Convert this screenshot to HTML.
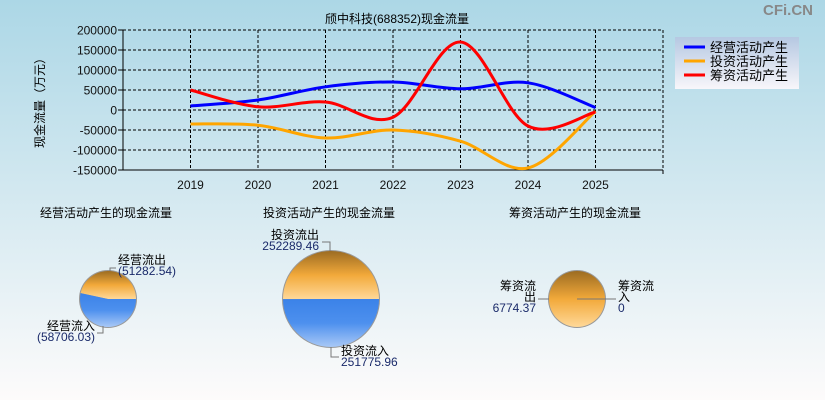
<!DOCTYPE html>
<html><head><meta charset="utf-8"><style>
body{margin:0;width:825px;height:400px;overflow:hidden;font-family:"Liberation Sans","Noto Sans CJK SC",sans-serif}
svg text{font-family:"Liberation Sans","Noto Sans CJK SC",sans-serif}
</style></head><body>
<svg id="c" width="825" height="400" xmlns="http://www.w3.org/2000/svg">
<defs>
<linearGradient id="bg" x1="0" y1="0" x2="0" y2="1"><stop offset="0" stop-color="#acd7e6"/><stop offset="1" stop-color="#fdfbfb"/></linearGradient>
<linearGradient id="lg" x1="0" y1="0" x2="0" y2="1"><stop offset="0" stop-color="#b5c8e2"/><stop offset="1" stop-color="#f8f6fa"/></linearGradient>
<linearGradient id="og" x1="0" y1="0" x2="0" y2="1"><stop offset="0" stop-color="#9c6c22"/><stop offset="0.5" stop-color="#f2a93a"/><stop offset="1" stop-color="#ffd898"/></linearGradient>
<linearGradient id="bgr" x1="0" y1="0" x2="0" y2="1"><stop offset="0" stop-color="#3b82e8"/><stop offset="0.5" stop-color="#4d90ee"/><stop offset="1" stop-color="#a8c8f6"/></linearGradient>
</defs>
<rect width="825" height="400" fill="url(#bg)"/>
<text x="813" y="15" font-size="15" font-weight="bold" fill="#888" text-anchor="end">CFi.CN</text>
<text x="397" y="23" font-size="12" text-anchor="middle">颀中科技(688352)现金流量</text>
<text transform="translate(44,100) rotate(-90)" font-size="12" text-anchor="middle">现金流量（万元）</text>
<g id="grid"></g><g id="series"></g>
<g>
<rect x="675" y="37" width="124" height="52" fill="url(#lg)"/>
<line x1="684" y1="47" x2="705" y2="47" stroke="#0000ff" stroke-width="3"/><text x="710" y="52" font-size="13">经营活动产生</text>
<line x1="684" y1="61" x2="705" y2="61" stroke="#ffa500" stroke-width="3"/><text x="710" y="66" font-size="13">投资活动产生</text>
<line x1="684" y1="75" x2="705" y2="75" stroke="#ff0000" stroke-width="3"/><text x="710" y="80" font-size="13">筹资活动产生</text>
</g>
<g id="pies"></g>
</svg>
<script>
const years=["2019","2020","2021","2022","2023","2024","2025"];
const yTicks=[200000,150000,100000,50000,0,-50000,-100000,-150000];
const operating=[10000,25000,58000,70000,53000,68000,6000];
const investing=[-35000,-38000,-70000,-50000,-78000,-145000,-3000];
const financing=[50000,8000,20000,-18000,170000,-40000,-5000];
const pieTitles=["经营活动产生的现金流量","投资活动产生的现金流量","筹资活动产生的现金流量"];
const pieOut=[51282.54,252289.46,6774.37];
const pieIn=[58706.03,251775.96,0];
const NS="http://www.w3.org/2000/svg";
const L=123,R=663,T=30,B=170;
const X=i=>L+(i+1)*(R-L)/(years.length+1);
const Y=v=>T+(200000-v)*(B-T)/350000;
function mk(t,a,p){const e=document.createElementNS(NS,t);for(const k in a)e.setAttribute(k,a[k]);(p||document.getElementById('c')).appendChild(e);return e;}
const g=document.getElementById('grid');
yTicks.forEach(v=>{
 const y=Y(v);
 const ln=mk('line',{x1:L,x2:R,y1:y,y2:y,stroke:'#000','stroke-dasharray':'3,2','stroke-width':1},g);
 
 
 mk('line',{x1:L-5,x2:L,y1:y,y2:y,stroke:'#000'},g);
 const t=mk('text',{x:L-6,y:y+4.5,'font-size':12,'text-anchor':'end',fill:'#111'},g);t.textContent=v;
 
 
});
years.forEach((yr,i)=>{
 const x=X(i);
 const ln=mk('line',{x1:x,x2:x,y1:T,y2:B,stroke:'#000','stroke-dasharray':'3,2'},g);
 
 
 const t=mk('text',{x:x,y:B+19,'font-size':12,'text-anchor':'middle',fill:'#111'},g);t.textContent=yr;
 
 
});
mk('line',{x1:R,x2:R,y1:B,y2:B+4,stroke:'#000'},g);
mk('line',{x1:L,x2:L,y1:T,y2:B,stroke:'#000'},g);
mk('line',{x1:L,x2:R,y1:B,y2:B,stroke:'#000'},g);
mk('line',{x1:R,x2:R,y1:T,y2:B,stroke:'#000','stroke-dasharray':'3,2'},g);
mk('line',{x1:L,x2:R,y1:T,y2:T,stroke:'#000','stroke-dasharray':'3,2'},g);
function path(vals){
 const p=vals.map((v,i)=>[X(i),Y(v)]);let d='M'+p[0];
 for(let i=0;i<p.length-1;i++){const p0=p[i-1]||p[i],p1=p[i],p2=p[i+1],p3=p[i+2]||p2;
  const c1=[p1[0]+(p2[0]-p0[0])/6,p1[1]+(p2[1]-p0[1])/6],c2=[p2[0]-(p3[0]-p1[0])/6,p2[1]-(p3[1]-p1[1])/6];
  d+=' C'+c1+' '+c2+' '+p2;}
 return d;}
const s=document.getElementById('series');
[[investing,'#ffa500','line-investing'],[operating,'#0000ff','line-operating'],[financing,'#ff0000','line-financing']].forEach(([v,c,n])=>{
 const e=mk('path',{d:path(v),fill:'none',stroke:c,'stroke-width':3},s);
 
 
});
const pg=document.getElementById('pies');
const cx=[108,331,577],rs=[28,48,28],titleX=[106,329,575];
function fmt(v,neg){return neg?'('+v.toFixed(2)+')':(v===0?'0':v.toFixed(2));}
pieTitles.forEach((tt,i)=>{
 const t=mk('text',{x:titleX[i],y:217,'font-size':12,'text-anchor':'middle'},pg);t.textContent=tt;
 
 
 const c=cx[i],cy=299,r=rs[i],tot=pieOut[i]+pieIn[i];
 const ang=Math.PI*2*pieOut[i]/tot;
 const grp=mk('g',{},pg);
 
 
 mk('circle',{cx:c,cy:cy,r:r+1,fill:'#999'},grp);
 if(pieIn[i]===0){mk('circle',{cx:c,cy:cy,r:r,fill:'url(#og)'},grp);}
 else{
  const ex=c+r*Math.cos(-ang),ey=cy+r*Math.sin(-ang);
  const so=mk('path',{d:`M${c},${cy} L${c+r},${cy} A${r},${r} 0 ${ang>Math.PI?1:0} 0 ${ex},${ey} Z`,fill:'url(#og)'},grp);
  
  
  const si=mk('path',{d:`M${c},${cy} L${ex},${ey} A${r},${r} 0 ${ang>Math.PI?0:1} 0 ${c+r},${cy} Z`,fill:'url(#bgr)'},grp);
  
  
 }
});
// labels
function lab(x,y,lines,anchor,nm){const t=mk('text',{x:x,y:y,'font-size':12,'text-anchor':anchor},pg);
 lines.forEach((l,k)=>{const ts=mk('tspan',{x:x,dy:k?11:0,fill:k===lines.length-1?'#1a2a6a':'#000'},t);ts.textContent=l;});
 
 }
mk('polyline',{points:'110,271 110,268 116,268',fill:'none',stroke:'#777'},pg);
lab(118,264,['经营流出',fmt(pieOut[0],true)],'start','label-operating-out');
mk('polyline',{points:'103,326 103,333 97,333',fill:'none',stroke:'#777'},pg);
lab(95,330,['经营流入',fmt(pieIn[0],true)],'end','label-operating-in');
mk('polyline',{points:'330,251 330,242 322,242',fill:'none',stroke:'#777'},pg);
lab(319,239,['投资流出',fmt(pieOut[1])],'end','label-investing-out');
mk('polyline',{points:'331,347 331,357 339,357',fill:'none',stroke:'#777'},pg);
lab(341,355,['投资流入',fmt(pieIn[1])],'start','label-investing-in');
mk('line',{x1:538,y1:299,x2:549,y2:299,stroke:'#777'},pg);
lab(536,290,['筹资流','出',fmt(pieOut[2])],'end','label-financing-out');
mk('line',{x1:577,y1:299,x2:616,y2:299,stroke:'#777'},pg);
lab(618,290,['筹资流','入',fmt(pieIn[2])],'start','label-financing-in');
</script>
</body></html>
